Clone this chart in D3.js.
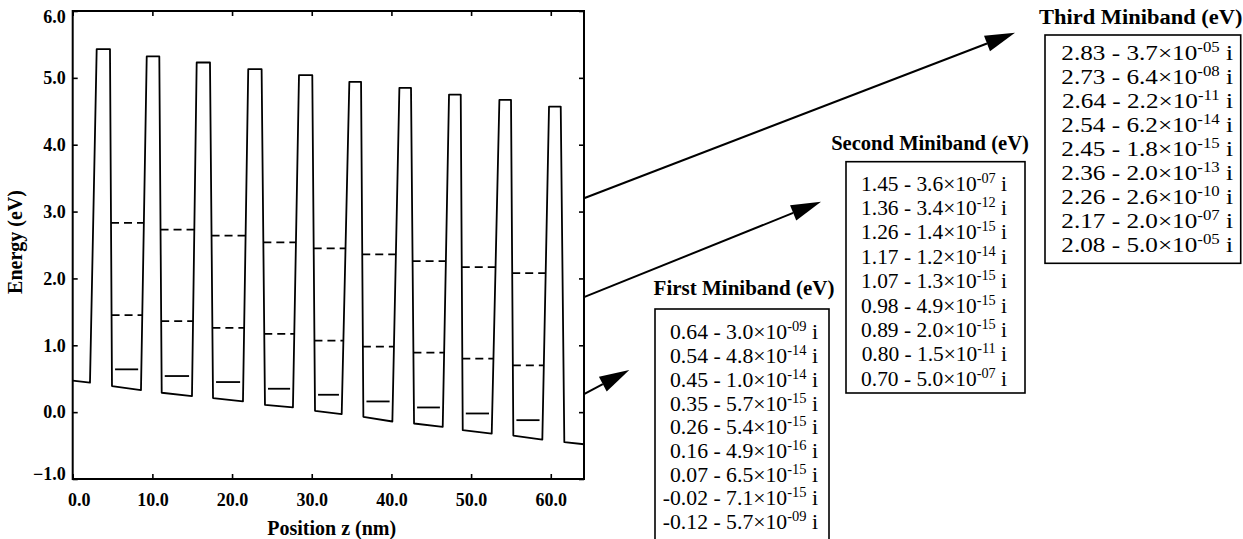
<!DOCTYPE html>
<html>
<head>
<meta charset="utf-8">
<script src="https://cdn.jsdelivr.net/npm/d3@7"></script>
<style>
  body { margin: 0; background: #fff; }
  svg { display: block; font-family: "Liberation Serif", "Times New Roman", serif; }
</style>
</head>
<body>
<svg id="chart" width="1243" height="539"></svg>
<script>
// axis ticks
var xTicks = [0, 10, 20, 30, 40, 50, 60];
var yTicks = [-1, 0, 1, 2, 3, 4, 5, 6];

// conduction band edge (z in nm, E in eV)
var profileZ = [0.00, 2.17, 3.01, 4.68, 4.93, 8.57, 9.29, 10.87, 11.17, 14.97,
                15.56, 17.23, 17.61, 21.37, 22.03, 23.71, 24.13, 27.64, 28.40, 30.07,
                30.41, 33.76, 34.72, 36.19, 36.48, 40.12, 41.00, 42.46, 42.84, 46.44,
                47.23, 48.70, 48.95, 52.59, 53.55, 55.01, 55.30, 58.94, 59.78, 61.25,
                61.70, 64.17];
var profileE = [0.47, 0.44, 5.43, 5.43, 0.39, 0.33, 5.32, 5.32, 0.29, 0.24,
                5.23, 5.23, 0.21, 0.16, 5.13, 5.13, 0.11, 0.07, 5.04, 5.04,
                0.02, -0.03, 4.94, 4.94, -0.07, -0.14, 4.85, 4.85, -0.17, -0.22,
                4.75, 4.75, -0.27, -0.32, 4.67, 4.67, -0.35, -0.41, 4.57, 4.57,
                -0.45, -0.48];

// miniband energies, one per well (real part, imaginary mantissa, exponent)
var band1Re = [0.64, 0.54, 0.45, 0.35, 0.26, 0.16, 0.07, -0.02, -0.12];
var band1Im = ["3.0", "4.8", "1.0", "5.7", "5.4", "4.9", "6.5", "7.1", "5.7"];
var band1Exp = ["-09", "-14", "-14", "-15", "-15", "-16", "-15", "-15", "-09"];

var band2Re = [1.45, 1.36, 1.26, 1.17, 1.07, 0.98, 0.89, 0.80, 0.70];
var band2Im = ["3.6", "3.4", "1.4", "1.2", "1.3", "4.9", "2.0", "1.5", "5.0"];
var band2Exp = ["-07", "-12", "-15", "-14", "-15", "-15", "-15", "-11", "-07"];

var band3Re = [2.83, 2.73, 2.64, 2.54, 2.45, 2.36, 2.26, 2.17, 2.08];
var band3Im = ["3.7", "6.4", "2.2", "6.2", "1.8", "2.0", "2.6", "2.0", "5.0"];
var band3Exp = ["-05", "-08", "-11", "-14", "-15", "-13", "-10", "-07", "-05"];

// where each pointer leaves the plot (eV) and where its arrow tip ends
var pointerE = [3.2, 1.72, 0.27];
var pointerTip = [[1015, 32.7], [821, 201.7], [629.3, 370]];

var svg = d3.select("#chart");
svg.append("rect").attr("width", 1243).attr("height", 539).attr("fill", "#fff");

var plot = {left: 72.7, right: 584, top: 11, bottom: 479};

var x = d3.scaleLinear().domain([0, 64.17]).range([plot.left, plot.right]);
var y = d3.scaleLinear().domain([-1, 6]).range([plot.bottom, plot.top]);

var fmt = d3.format(".1f");

// axes - ticks point inward on all four sides
var xAxis = svg.append("g")
  .attr("transform", "translate(0," + plot.bottom + ")")
  .call(d3.axisBottom(x).tickValues(xTicks).tickSize(-5).tickSizeOuter(0).tickPadding(14).tickFormat(fmt));
svg.append("g")
  .attr("transform", "translate(0," + plot.top + ")")
  .call(d3.axisTop(x).tickValues(xTicks).tickSize(-5).tickSizeOuter(0).tickFormat(""));
var yAxis = svg.append("g")
  .attr("transform", "translate(" + plot.left + ",0)")
  .call(d3.axisLeft(y).tickValues(yTicks).tickSize(-5).tickSizeOuter(0).tickPadding(7).tickFormat(fmt));
svg.append("g")
  .attr("transform", "translate(" + plot.right + ",0)")
  .call(d3.axisRight(y).tickValues(yTicks).tickSize(-5).tickSizeOuter(0).tickFormat(""));

svg.selectAll(".domain").remove();
svg.selectAll(".tick line").attr("stroke", "#000").attr("stroke-width", 1.6);
svg.selectAll(".tick text")
  .attr("font-family", "Liberation Serif, serif")
  .attr("font-size", 18)
  .attr("font-weight", "bold")
  .attr("fill", "#000");

// the corner labels sit a little inside the frame
xAxis.selectAll(".tick").filter(function(d) { return d == 0; }).select("text").attr("dx", 6);
yAxis.selectAll(".tick").filter(function(d) { return d == 6; }).select("text").attr("dy", "0.62em");
yAxis.selectAll(".tick").filter(function(d) { return d == -1; }).select("text").attr("dy", "0.0em");

// frame
svg.append("rect")
  .attr("x", plot.left).attr("y", plot.top)
  .attr("width", plot.right - plot.left).attr("height", plot.bottom - plot.top)
  .attr("fill", "none").attr("stroke", "#000").attr("stroke-width", 2);

// axis titles
svg.append("text")
  .attr("x", 331.7).attr("y", 535)
  .attr("text-anchor", "middle")
  .attr("font-size", 20).attr("font-weight", "bold")
  .text("Position z (nm)");
svg.append("text")
  .attr("transform", "translate(22,242) rotate(-90)")
  .attr("text-anchor", "middle")
  .attr("font-size", 20).attr("font-weight", "bold")
  .text("Energy (eV)");

// band edge
var profile = profileZ.map(function(z, i) { return [z, profileE[i]]; });
svg.append("path")
  .datum(profile)
  .attr("fill", "none")
  .attr("stroke", "#000")
  .attr("stroke-width", 1.8)
  .attr("stroke-linejoin", "round")
  .attr("d", d3.line().x(function(d) { return x(d[0]); }).y(function(d) { return y(d[1]); }));

// z of a well wall at energy e (wall runs between profile points i0 and i1)
function wallZ(i0, i1, e) {
  var z0 = profileZ[i0], z1 = profileZ[i1], e0 = profileE[i0], e1 = profileE[i1];
  return z0 + (e - e0) * (z1 - z0) / (e1 - e0);
}

function levels(values, inset, dash) {
  var segs = values.map(function(e, k) {
    return {e: e,
            z0: wallZ(3 + 4 * k, 4 + 4 * k, e) + inset,
            z1: wallZ(5 + 4 * k, 6 + 4 * k, e) - inset};
  });
  svg.append("g").selectAll("line")
    .data(segs)
    .enter()
    .append("line")
      .attr("x1", function(d) { return x(d.z0); })
      .attr("x2", function(d) { return x(d.z1); })
      .attr("y1", function(d) { return y(d.e); })
      .attr("y2", function(d) { return y(d.e); })
      .attr("stroke", "#000")
      .attr("stroke-width", 1.8)
      .attr("stroke-dasharray", dash);
}
levels(band3Re, 0, "8,5");
levels(band2Re, 0, "8,5");
levels(band1Re, 0.4, null);

// pointer arrows
pointerE.forEach(function(e, i) {
  var x0 = plot.right, y0 = y(e);
  var tx = pointerTip[i][0], ty = pointerTip[i][1];
  var len = Math.hypot(tx - x0, ty - y0);
  var ux = (tx - x0) / len, uy = (ty - y0) / len;
  var bx = tx - 30 * ux, by = ty - 30 * uy;
  svg.append("line")
    .attr("x1", x0).attr("y1", y0).attr("x2", bx).attr("y2", by)
    .attr("stroke", "#000").attr("stroke-width", 2);
  svg.append("path")
    .attr("d", "M" + tx + "," + ty +
               "L" + (bx - 8.3 * uy) + "," + (by + 8.3 * ux) +
               "L" + (bx + 8.3 * uy) + "," + (by - 8.3 * ux) + "Z")
    .attr("fill", "#000");
});

// miniband tables; the scanned tables are stretched sideways by different amounts
function table(title, titleX, titleY, titleStretch, box, textX, rowY, rowStep, rowStretch, re, im, ex) {
  svg.append("text")
    .attr("transform", "translate(" + titleX + "," + titleY + ") scale(" + titleStretch + ",1)")
    .attr("text-anchor", "middle")
    .attr("font-size", 21).attr("font-weight", "bold")
    .text(title);
  svg.append("rect")
    .attr("x", box[0]).attr("y", box[1]).attr("width", box[2]).attr("height", box[3])
    .attr("fill", "none").attr("stroke", "#000").attr("stroke-width", 1.6);
  var rows = svg.append("g")
    .attr("transform", "translate(" + textX + ",0) scale(" + rowStretch + ",1)")
    .selectAll("text")
    .data(re)
    .enter()
    .append("text")
      .attr("x", 0)
      .attr("y", function(d, i) { return rowY + i * rowStep; })
      .attr("text-anchor", "end")
      .attr("font-size", 21);
  rows.append("tspan").text(function(d, i) { return d.toFixed(2) + " - " + im[i] + "\u00d710"; });
  rows.append("tspan").attr("font-size", 14).attr("dy", -8).text(function(d, i) { return ex[i]; });
  rows.append("tspan").attr("dy", 8).text(" i");
}

table("First Miniband (eV)", 744, 295, 1, [655, 309, 174, 250], 818, 339.5, 23.7, 1.035, band1Re, band1Im, band1Exp);
table("Second Miniband (eV)", 930, 150, 0.98, [846, 161.7, 179, 231.3], 1007, 190.7, 24.4, 1.02, band2Re, band2Im, band2Exp);
table("Third Miniband (eV)", 1140.7, 24, 1.07, [1045, 35, 195.7, 228.3], 1233, 60, 24, 1.2, band3Re, band3Im, band3Exp);
</script>
</body>
</html>
